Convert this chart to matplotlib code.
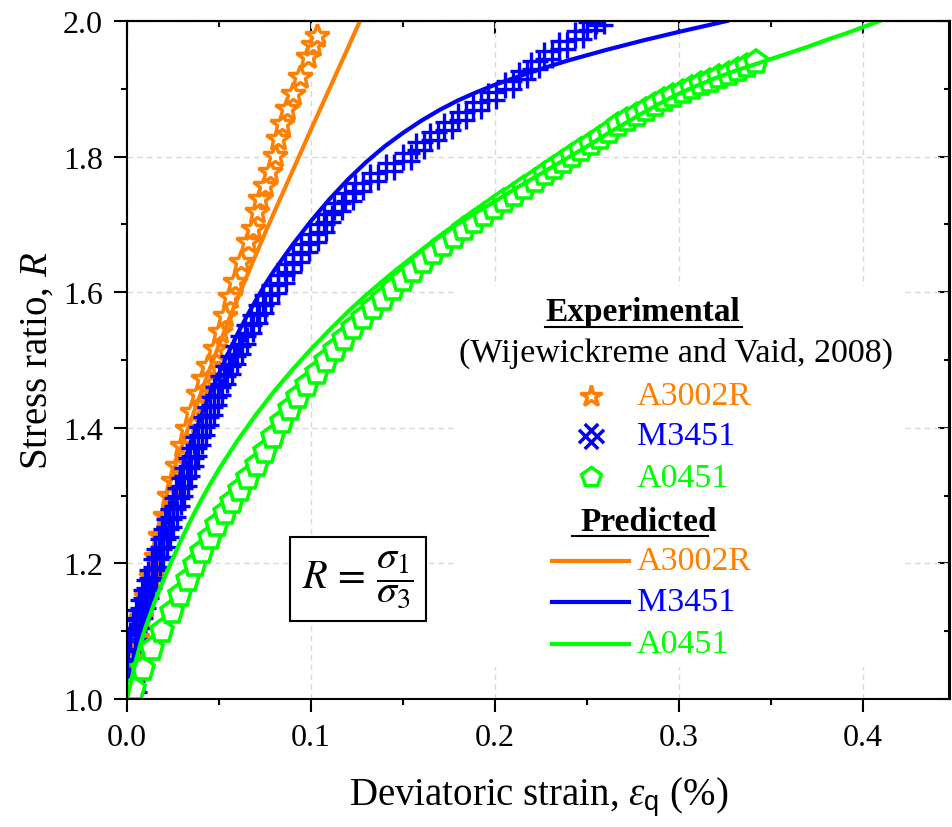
import matplotlib
matplotlib.use("Agg")
import matplotlib.pyplot as plt
from matplotlib.path import Path
from matplotlib.patches import Rectangle
from matplotlib.ticker import MultipleLocator, FormatStrFormatter
from matplotlib.transforms import Affine2D

ORANGE = "#ff8000"
BLUE = "#0000ff"
GREEN = "#00ff00"

# Experimental: A3002R
a3002r_exp_x = [0.0015, 0.0033, 0.0055, 0.0078, 0.0102, 0.0128, 0.0155, 0.0180, 0.0205, 0.0230,
                0.0250, 0.0272, 0.0299, 0.0326, 0.0353, 0.0386, 0.0413, 0.0440, 0.0478, 0.0505,
                0.0533, 0.0560, 0.0587, 0.0620, 0.0658, 0.0685, 0.0707, 0.0723, 0.0750, 0.0777,
                0.0804, 0.0821, 0.0842, 0.0870, 0.0902, 0.0940, 0.0984, 0.1011, 0.1031]
a3002r_exp_r = [1.030, 1.060, 1.090, 1.120, 1.150, 1.180, 1.210, 1.240, 1.270, 1.300,
                1.322, 1.344, 1.373, 1.398, 1.423, 1.450, 1.472, 1.491, 1.516, 1.541,
                1.565, 1.593, 1.615, 1.645, 1.674, 1.693, 1.718, 1.737, 1.757, 1.777,
                1.801, 1.826, 1.848, 1.870, 1.892, 1.917, 1.947, 1.964, 1.978]

# Experimental: M3451
m3451_exp_x = [0.004, 0.0025, 0.002, 0.001, 0.002, 0.0025, 0.0037, 0.0052, 0.0068, 0.0085,
               0.0103, 0.012, 0.0138, 0.0156, 0.0175, 0.0194, 0.0212, 0.023, 0.025, 0.027,
               0.029, 0.031, 0.0328, 0.0346, 0.0365, 0.0385, 0.0405, 0.0427, 0.045, 0.0473,
               0.0497, 0.0522, 0.0548, 0.0575, 0.0603, 0.0632, 0.0663, 0.0695, 0.0728, 0.0763,
               0.080, 0.084, 0.0882, 0.0925, 0.097, 0.1015, 0.1062, 0.109, 0.1145, 0.1205,
               0.126, 0.134, 0.143, 0.1522, 0.1595, 0.167, 0.1745, 0.182, 0.190, 0.1985,
               0.2075, 0.215, 0.2215, 0.229, 0.237, 0.2455, 0.252, 0.257]
m3451_exp_r = [1.005, 1.020, 1.035, 1.050, 1.065, 1.080, 1.095, 1.110, 1.125, 1.140,
               1.155, 1.170, 1.185, 1.200, 1.215, 1.230, 1.245, 1.260, 1.275, 1.290,
               1.305, 1.320, 1.335, 1.350, 1.365, 1.380, 1.395, 1.410, 1.425, 1.440,
               1.455, 1.470, 1.485, 1.500, 1.515, 1.530, 1.545, 1.560, 1.575, 1.590,
               1.605, 1.620, 1.635, 1.650, 1.665, 1.680, 1.695, 1.710, 1.725, 1.740,
               1.755, 1.770, 1.785, 1.800, 1.815, 1.830, 1.845, 1.860, 1.875, 1.890,
               1.905, 1.920, 1.935, 1.950, 1.965, 1.980, 1.992, 2.000]

# Experimental: A0451
a0451_exp_x = [0.004, 0.0087, 0.0136, 0.019, 0.0245, 0.029, 0.033, 0.037, 0.041, 0.045,
               0.049, 0.053, 0.057, 0.0615, 0.066, 0.0705, 0.075, 0.0795, 0.084, 0.0885,
               0.093, 0.098, 0.103, 0.108, 0.113, 0.118, 0.123, 0.128, 0.1335, 0.139,
               0.1445, 0.150, 0.1555, 0.161, 0.1665, 0.172, 0.1775, 0.183, 0.1885, 0.194,
               0.1995, 0.205, 0.2105, 0.216, 0.2215, 0.227, 0.232, 0.237, 0.242, 0.247,
               0.252, 0.257, 0.262, 0.267, 0.272, 0.277, 0.282, 0.287, 0.292, 0.297,
               0.302, 0.307, 0.312, 0.317, 0.322, 0.327, 0.332, 0.337, 0.342]
a0451_exp_r = [1.015, 1.044, 1.074, 1.100, 1.128, 1.153, 1.176, 1.197, 1.217, 1.238,
               1.256, 1.274, 1.291, 1.308, 1.326, 1.345, 1.364, 1.386, 1.408, 1.427,
               1.445, 1.463, 1.481, 1.498, 1.515, 1.531, 1.547, 1.562, 1.576, 1.590,
               1.604, 1.618, 1.632, 1.645, 1.658, 1.670, 1.682, 1.693, 1.704, 1.714,
               1.724, 1.734, 1.744, 1.754, 1.764, 1.774, 1.783, 1.792, 1.801, 1.810,
               1.819, 1.828, 1.837, 1.846, 1.854, 1.862, 1.869, 1.876, 1.883, 1.889,
               1.895, 1.901, 1.907, 1.912, 1.917, 1.922, 1.927, 1.933, 1.940]

# Predicted curves
a3002r_pred_x = [0.0, 0.0025, 0.005, 0.0075, 0.010, 0.015, 0.020, 0.025, 0.030, 0.035,
                 0.040, 0.045, 0.050, 0.055, 0.060, 0.065, 0.070, 0.075, 0.080, 0.090,
                 0.100, 0.110, 0.120, 0.1266]
a3002r_pred_r = [1.0, 1.050, 1.095, 1.135, 1.170, 1.232, 1.287, 1.334, 1.375, 1.413,
                 1.450, 1.487, 1.522, 1.557, 1.590, 1.623, 1.655, 1.687, 1.718, 1.779,
                 1.840, 1.900, 1.960, 2.0]

m3451_pred_x = [0.0, 0.0025, 0.005, 0.0075, 0.010, 0.0125, 0.015, 0.0175, 0.020, 0.025,
                0.030, 0.035, 0.040, 0.045, 0.050, 0.055, 0.060, 0.065, 0.070, 0.075,
                0.080, 0.090, 0.100, 0.110, 0.120, 0.130, 0.140, 0.150, 0.160, 0.170,
                0.180, 0.190, 0.200, 0.220, 0.240, 0.260, 0.280, 0.300, 0.326]
m3451_pred_r = [1.0, 1.040, 1.075, 1.108, 1.140, 1.168, 1.195, 1.222, 1.248, 1.297,
                1.340, 1.380, 1.415, 1.449, 1.480, 1.510, 1.538, 1.564, 1.588, 1.611,
                1.632, 1.670, 1.705, 1.737, 1.766, 1.792, 1.815, 1.835, 1.853, 1.869,
                1.883, 1.895, 1.906, 1.925, 1.942, 1.957, 1.971, 1.984, 2.0]

a0451_pred_x = [0.0, 0.0025, 0.005, 0.0075, 0.010, 0.015, 0.020, 0.025, 0.030, 0.035,
                0.040, 0.045, 0.050, 0.060, 0.070, 0.080, 0.090, 0.100, 0.110, 0.120,
                0.130, 0.140, 0.150, 0.160, 0.170, 0.180, 0.190, 0.200, 0.210, 0.220,
                0.230, 0.240, 0.250, 0.260, 0.270, 0.280, 0.290, 0.300, 0.310, 0.320,
                0.330, 0.340, 0.350, 0.360, 0.370, 0.380, 0.390, 0.400, 0.409]
a0451_pred_r = [1.0, 1.030, 1.058, 1.083, 1.105, 1.143, 1.177, 1.208, 1.238, 1.266,
                1.292, 1.316, 1.339, 1.381, 1.419, 1.454, 1.486, 1.516, 1.544, 1.571,
                1.596, 1.619, 1.641, 1.662, 1.682, 1.701, 1.718, 1.734, 1.751, 1.767,
                1.783, 1.799, 1.815, 1.832, 1.848, 1.864, 1.879, 1.893, 1.905, 1.916,
                1.926, 1.935, 1.944, 1.953, 1.962, 1.972, 1.981, 1.991, 2.0]

x_ticks = [0.0, 0.1, 0.2, 0.3, 0.4]
y_ticks = [1.0, 1.2, 1.4, 1.6, 1.8, 2.0]


def hash_path():
    verts = [(-1, -0.3), (1, -0.3), (-1, 0.3), (1, 0.3),
             (-0.3, -1), (-0.3, 1), (0.3, -1), (0.3, 1)]
    codes = [Path.MOVETO, Path.LINETO] * 4
    return Path(verts, codes)


def main():
    plt.rcParams["font.family"] = "serif"
    plt.rcParams["font.serif"] = ["Liberation Serif", "DejaVu Serif"]
    plt.rcParams["mathtext.fontset"] = "custom"
    plt.rcParams["mathtext.rm"] = "Liberation Serif"
    plt.rcParams["mathtext.it"] = "Liberation Serif:italic"
    plt.rcParams["mathtext.bf"] = "Liberation Serif:bold"
    plt.rcParams["mathtext.sf"] = "Liberation Sans"

    fig = plt.figure(figsize=(9.53, 8.28), dpi=100)
    ax = fig.add_axes([127 / 953, 1 - 700 / 828, 822.5 / 953, 678 / 828])

    hash_m = hash_path()
    hash_rot = Affine2D().rotate_deg(45).transform_path(hash_m)

    ax.plot(a3002r_exp_x, a3002r_exp_r, ls="none", marker="*", ms=18, mfc="white",
            mec=ORANGE, mew=2.5, zorder=2)
    ax.plot(a3002r_pred_x, a3002r_pred_r, color=ORANGE, lw=3, zorder=2.1)
    ax.plot(m3451_exp_x, m3451_exp_r, ls="none", marker=hash_m, ms=19, mfc="none",
            mec=BLUE, mew=2.4, zorder=2.2)
    ax.plot(m3451_pred_x, m3451_pred_r, color=BLUE, lw=3, zorder=2.3)
    ax.plot(a0451_exp_x, a0451_exp_r, ls="none", marker="p", ms=17, mfc="white",
            mec=GREEN, mew=2.6, zorder=2.4)
    ax.plot(a0451_pred_x, a0451_pred_r, color=GREEN, lw=3, zorder=2.5)

    ax.set_xlim(0, 0.447)
    ax.set_ylim(1.0, 2.0)
    ax.set_xticks(x_ticks)
    ax.set_yticks(y_ticks)
    ax.xaxis.set_minor_locator(MultipleLocator(0.05))
    ax.yaxis.set_minor_locator(MultipleLocator(0.1))
    ax.xaxis.set_major_formatter(FormatStrFormatter("%.1f"))
    ax.yaxis.set_major_formatter(FormatStrFormatter("%.1f"))
    ax.tick_params(which="major", direction="out", length=9.5, width=1.5, labelsize=23, pad=8)
    ax.tick_params(which="minor", direction="out", length=4.5, width=1.5)
    for s in ax.spines.values():
        s.set_linewidth(1.5)

    secx = ax.secondary_xaxis("top")
    secx.set_xticks(x_ticks)
    secx.xaxis.set_minor_locator(MultipleLocator(0.05))
    secx.tick_params(which="major", direction="in", length=9, width=1.5, labeltop=False)
    secx.tick_params(which="minor", direction="in", length=4.5, width=1.5)
    secx.spines["top"].set_linewidth(1.5)
    secy = ax.secondary_yaxis("right")
    secy.set_yticks(y_ticks)
    secy.yaxis.set_minor_locator(MultipleLocator(0.1))
    secy.tick_params(which="major", direction="in", length=9, width=1.5, labelright=False)
    secy.tick_params(which="minor", direction="in", length=4.5, width=1.5)
    secy.spines["right"].set_linewidth(1.5)

    ax.set_axisbelow(True)
    ax.grid(True, which="major", ls=(0, (4, 3)), color="#d8d8d8", lw=1)

    ax.set_xlabel(r"Deviatoric strain, $\varepsilon_{\mathsf{q}}$ (%)", fontsize=28, labelpad=16)
    ax.set_ylabel(r"Stress ratio, $R$", fontsize=28, labelpad=5)

    # formula box
    ax.text(0.281, 0.177, r"$R\,=\,\dfrac{\sigma_1}{\sigma_3}$", transform=ax.transAxes,
            fontsize=29, ha="center", va="center", math_fontfamily="stix", zorder=4,
            bbox=dict(boxstyle="square,pad=0.3", fc="white", ec="black", lw=1.5))

    # legend
    ax.add_patch(Rectangle((0.399, 0.047), 0.547, 0.562, transform=ax.transAxes,
                           fc="white", ec="none", zorder=1))
    ax.text(0.6274, 0.572, "Experimental", transform=ax.transAxes, fontsize=24,
            fontweight="bold", ha="center", va="center", zorder=4)
    ax.plot([0.5082, 0.7477], [0.548, 0.548], transform=ax.transAxes, color="black",
            lw=1.5, clip_on=False, zorder=4)
    ax.text(0.6675, 0.511, "(Wijewickreme and Vaid, 2008)", transform=ax.transAxes,
            fontsize=24.5, ha="center", va="center", zorder=4)

    exp_rows = [("A3002R", ORANGE, "*", 16, "white", 0.447),
                ("M3451", BLUE, hash_rot, 18, "none", 0.388),
                ("A0451", GREEN, "p", 15, "white", 0.327)]
    for name, c, m, ms, fc, fy in exp_rows:
        ax.plot([0.5641], [fy], transform=ax.transAxes, ls="none", marker=m, ms=ms,
                mfc=fc, mec=c, mew=2.5, clip_on=False, zorder=4)
        ax.text(0.6201, fy, name, transform=ax.transAxes, fontsize=24.5, color=c,
                ha="left", va="center", zorder=4)

    ax.text(0.6347, 0.2625, "Predicted", transform=ax.transAxes, fontsize=24,
            fontweight="bold", ha="center", va="center", zorder=4)
    ax.plot([0.5407, 0.7064], [0.2404, 0.2404], transform=ax.transAxes, color="black",
            lw=1.5, clip_on=False, zorder=4)

    pred_rows = [("A3002R", ORANGE, 0.2035), ("M3451", BLUE, 0.1431), ("A0451", GREEN, 0.0811)]
    for name, c, fy in pred_rows:
        ax.plot([0.5167, 0.6109], [fy, fy], transform=ax.transAxes, color=c, lw=3,
                clip_on=False, zorder=4)
        ax.text(0.6201, fy, name, transform=ax.transAxes, fontsize=24.5, color=c,
                ha="left", va="center", zorder=4)

    fig.savefig("out.png", dpi=100)


if __name__ == '__main__':
    main()
